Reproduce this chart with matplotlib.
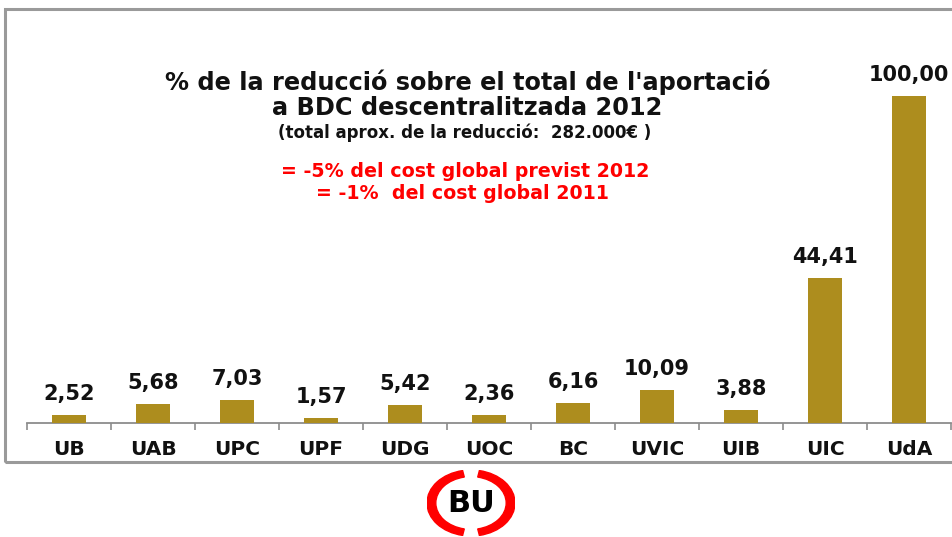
import numpy as np
import matplotlib
matplotlib.use('Agg')
import matplotlib.pyplot as plt
from matplotlib.patches import Rectangle, Wedge

# data
universities = ['UB', 'UAB', 'UPC', 'UPF', 'UDG', 'UOC', 'BC', 'UVIC', 'UIB', 'UIC', 'UdA']
reduction = [2.52, 5.68, 7.03, 1.57, 5.42, 2.36, 6.16, 10.09, 3.88, 44.41, 100.00]
value_labels = ['2,52', '5,68', '7,03', '1,57', '5,42', '2,36', '6,16', '10,09', '3,88', '44,41', '100,00']

title_lines = ["% de la reducció sobre el total de l'aportació",
               "a BDC descentralitzada 2012"]
subtitle = "(total aprox. de la reducció:  282.000€ )"
red_lines = ["= -5% del cost global previst 2012",
             "= -1%  del cost global 2011"]

W, H = 953, 537
fig = plt.figure(figsize=(W / 100, H / 100), dpi=100)
plt.rcParams['font.family'] = 'DejaVu Sans'

def fx(px):
    return px / W

def fy(py):
    return 1 - py / H

# outer frame
fig.patches.append(Rectangle((fx(5), fy(462)), fx(960) - fx(5), fy(9) - fy(462),
                             transform=fig.transFigure, fill=False,
                             edgecolor='#9a9a9a', linewidth=2.2))

# bar axes: baseline at y=423, value 100 at y=96
ax = fig.add_axes([fx(27), fy(423), fx(951) - fx(27), fy(96) - fy(423)])
x = np.arange(len(universities))
ax.bar(x, reduction, width=0.40, color='#AD8D1E', zorder=3)
ax.set_xlim(-0.5, len(universities) - 0.5)
ax.set_ylim(0, 100)

for xi, v, lab in zip(x, reduction, value_labels):
    ax.annotate(lab, (xi, v), xytext=(0, 8), textcoords='offset points',
                ha='center', va='bottom', fontsize=15, fontweight='bold',
                color='#111111')

for s in ['top', 'right', 'left']:
    ax.spines[s].set_visible(False)
ax.spines['bottom'].set_color('#8c8c8c')
ax.spines['bottom'].set_linewidth(1.3)
ax.set_yticks([])
ax.set_xticks(x)
ax.set_xticklabels(universities, fontsize=14.5, fontweight='bold', color='#111111')
ax.tick_params(axis='x', which='major', length=0, pad=12)
ax.set_xticks(np.arange(-0.5, len(universities) + 0.5, 1), minor=True)
ax.tick_params(axis='x', which='minor', length=5, width=1.2, color='#8c8c8c')
ax.patch.set_alpha(0)

# titles
fig.text(fx(468), fy(90), title_lines[0], ha='center', va='baseline',
         fontsize=17.3, fontweight='bold', color='#111111')
fig.text(fx(467), fy(115), title_lines[1], ha='center', va='baseline',
         fontsize=17.3, fontweight='bold', color='#111111')
fig.text(fx(465), fy(138), subtitle, ha='center', va='baseline',
         fontsize=12, fontweight='bold', color='#111111')
fig.text(fx(465), fy(177), red_lines[0], ha='center', va='baseline',
         fontsize=13.7, fontweight='bold', color='#ff0000')
fig.text(fx(462), fy(199), red_lines[1], ha='center', va='baseline',
         fontsize=13.7, fontweight='bold', color='#ff0000')

# BU logo (stretched circle)
lax = fig.add_axes([fx(427), fy(536), fx(515) - fx(427), fy(470) - fy(536)])
lax.set_xlim(-1, 1)
lax.set_ylim(-1, 1)
lax.axis('off')
lax.add_patch(Wedge((0, 0), 1, 101, 259, width=0.2, color='#ff0000'))
lax.add_patch(Wedge((0, 0), 1, -79, 79, width=0.2, color='#ff0000'))
lax.text(0, 0, 'BU', ha='center', va='center', fontsize=22,
         fontweight='heavy', color='black')

fig.savefig('out.png', dpi=100)
